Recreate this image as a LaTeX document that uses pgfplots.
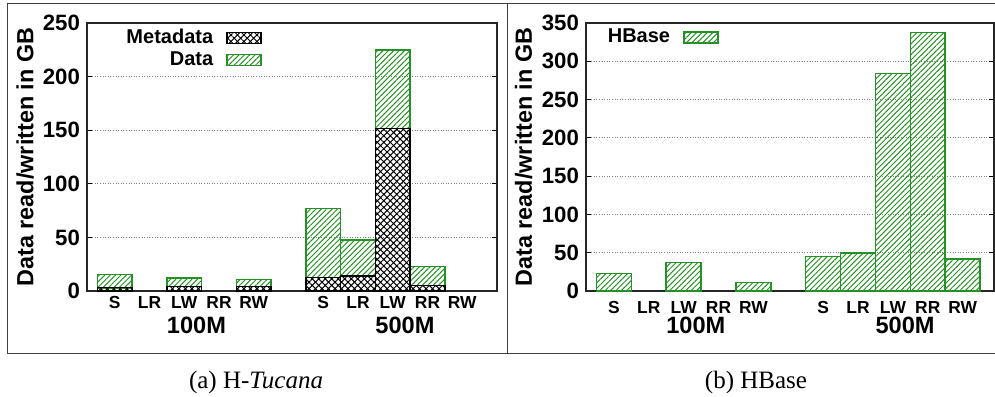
\documentclass[border=0pt]{standalone}
\usepackage{fontspec}
\setmainfont{Liberation Serif}
\newfontfamily\hv{Liberation Sans}
\usepackage{pgfplots}
\pgfplotsset{compat=1.18}
\usetikzlibrary{patterns.meta}
\definecolor{hgreen}{RGB}{35,145,35}
\pgfplotsset{
  mybase/.style={
    scale only axis, anchor=south west,
    ymin=0, ytick distance=50,
    xmin=-0.8,
    bar width=1,
    /pgf/number format/assume math mode=true,
    tick align=inside,
    ytick pos=both, xtick pos=bottom,
    xtick={0,...,10},
    xticklabels={S,LR,LW,RR,RW,,S,LR,LW,RR,RW},
    x tick style={draw=none},
    extra x tick labels={},
    extra x tick style={major tick length=3pt, tick style={draw=black, line width=0.5pt}},
    y tick style={line width=0.5pt, black},
    major tick length=2.5pt,
    ymajorgrids,
    grid style={gray, line width=0.4pt, dash pattern=on 0.4pt off 0.9pt},
    axis line style={line width=0.65pt, black!85},
    yticklabel style={font=\hv\bfseries\fontsize{11.1}{13}\selectfont},
    xticklabel style={font=\hv\bfseries\fontsize{8.7}{10}\selectfont, anchor=center, yshift=-5.75pt},
    ylabel={Data read/written in GB},
    ylabel style={font=\hv\bfseries\fontsize{11.7}{14}\selectfont, anchor=center},
    clip=false,
    legend plot pos=right,
    legend style={draw=none, fill=none, inner sep=0pt, anchor=north east,
      font=\hv\bfseries\fontsize{10}{12}\selectfont, row sep=-1.5pt, column sep=4.5pt,
      cells={anchor=east}},
  },
  mylegend/.style={legend image code/.code={\draw[##1] (0pt,-2.75pt) rectangle (17pt,2.75pt);}},
}
\begin{document}
\begin{tikzpicture}
\useasboundingbox (0,0) rectangle (497.5pt,198pt);
% frame
\draw[black!75, line width=0.5pt] (497.5pt,196pt) -- (3.5pt,196pt) -- (3.5pt,21pt) -- (497.5pt,21pt);
\draw[black!75, line width=0.5pt] (253.5pt,196pt) -- (253.5pt,21pt);
% left panel
\begin{axis}[mybase,
  at={(43.5pt,52.5pt)}, width=205pt, height=134pt,
  xmax=11.0, ymax=250,
  ybar stacked,
  extra x ticks={1,3,5,10},
  ylabel style={at={(axis description cs:-0.151,0.5)}},
  legend style={at={(axis description cs:0.427,0.994)}},
]
\addplot+[mylegend, draw=black, line width=0.7pt, fill=none,
  pattern={Hatch[angle=45,distance=2.3pt,line width=0.5pt]}, pattern color=black]
  coordinates {(0,3) (2,4) (4,4) (6,12.8) (7,14) (8,151.8) (9,5.3)};
\addlegendentry{Metadata}
\addplot+[mylegend, draw=hgreen, line width=0.75pt, fill=none,
  pattern={Lines[angle=45,distance=1.9pt,line width=0.5pt]}, pattern color=hgreen]
  coordinates {(0,12.6) (2,8.1) (4,6.5) (6,64.3) (7,33.6) (8,73) (9,17.4)};
\addlegendentry{Data}
\node[font=\hv\bfseries\fontsize{11.8}{13}\selectfont] at (axis cs:2.35,0) [yshift=-17.25pt] {100M};
\node[font=\hv\bfseries\fontsize{11.8}{13}\selectfont] at (axis cs:8.35,0) [yshift=-17.25pt] {500M};
\end{axis}
% right panel
\begin{axis}[mybase,
  at={(293pt,52.5pt)}, width=204pt, height=134pt,
  xmax=10.9, ymax=350,
  ybar,
  extra x ticks={1,3,5},
  ylabel style={at={(axis description cs:-0.153,0.5)}},
  legend style={at={(axis description cs:0.326,0.994)}},
]
\addplot+[mylegend, draw=hgreen, line width=0.75pt, fill=none,
  pattern={Lines[angle=45,distance=1.9pt,line width=0.5pt]}, pattern color=hgreen]
  coordinates {(0,22.6) (2,36.9) (4,11.3) (6,45.2) (7,49.9) (8,284.2) (9,337.3) (10,41.7)};
\addlegendentry{HBase}
\node[font=\hv\bfseries\fontsize{11.8}{13}\selectfont] at (axis cs:2.35,0) [yshift=-17.25pt] {100M};
\node[font=\hv\bfseries\fontsize{11.8}{13}\selectfont] at (axis cs:8.35,0) [yshift=-17.25pt] {500M};
\end{axis}
\node[font=\fontsize{12.5}{14}\selectfont] at (128pt,7pt) {(a) H-\textit{Tucana}};
\node[font=\fontsize{12.5}{14}\selectfont] at (378pt,7pt) {(b) HBase};
\end{tikzpicture}
\end{document}
